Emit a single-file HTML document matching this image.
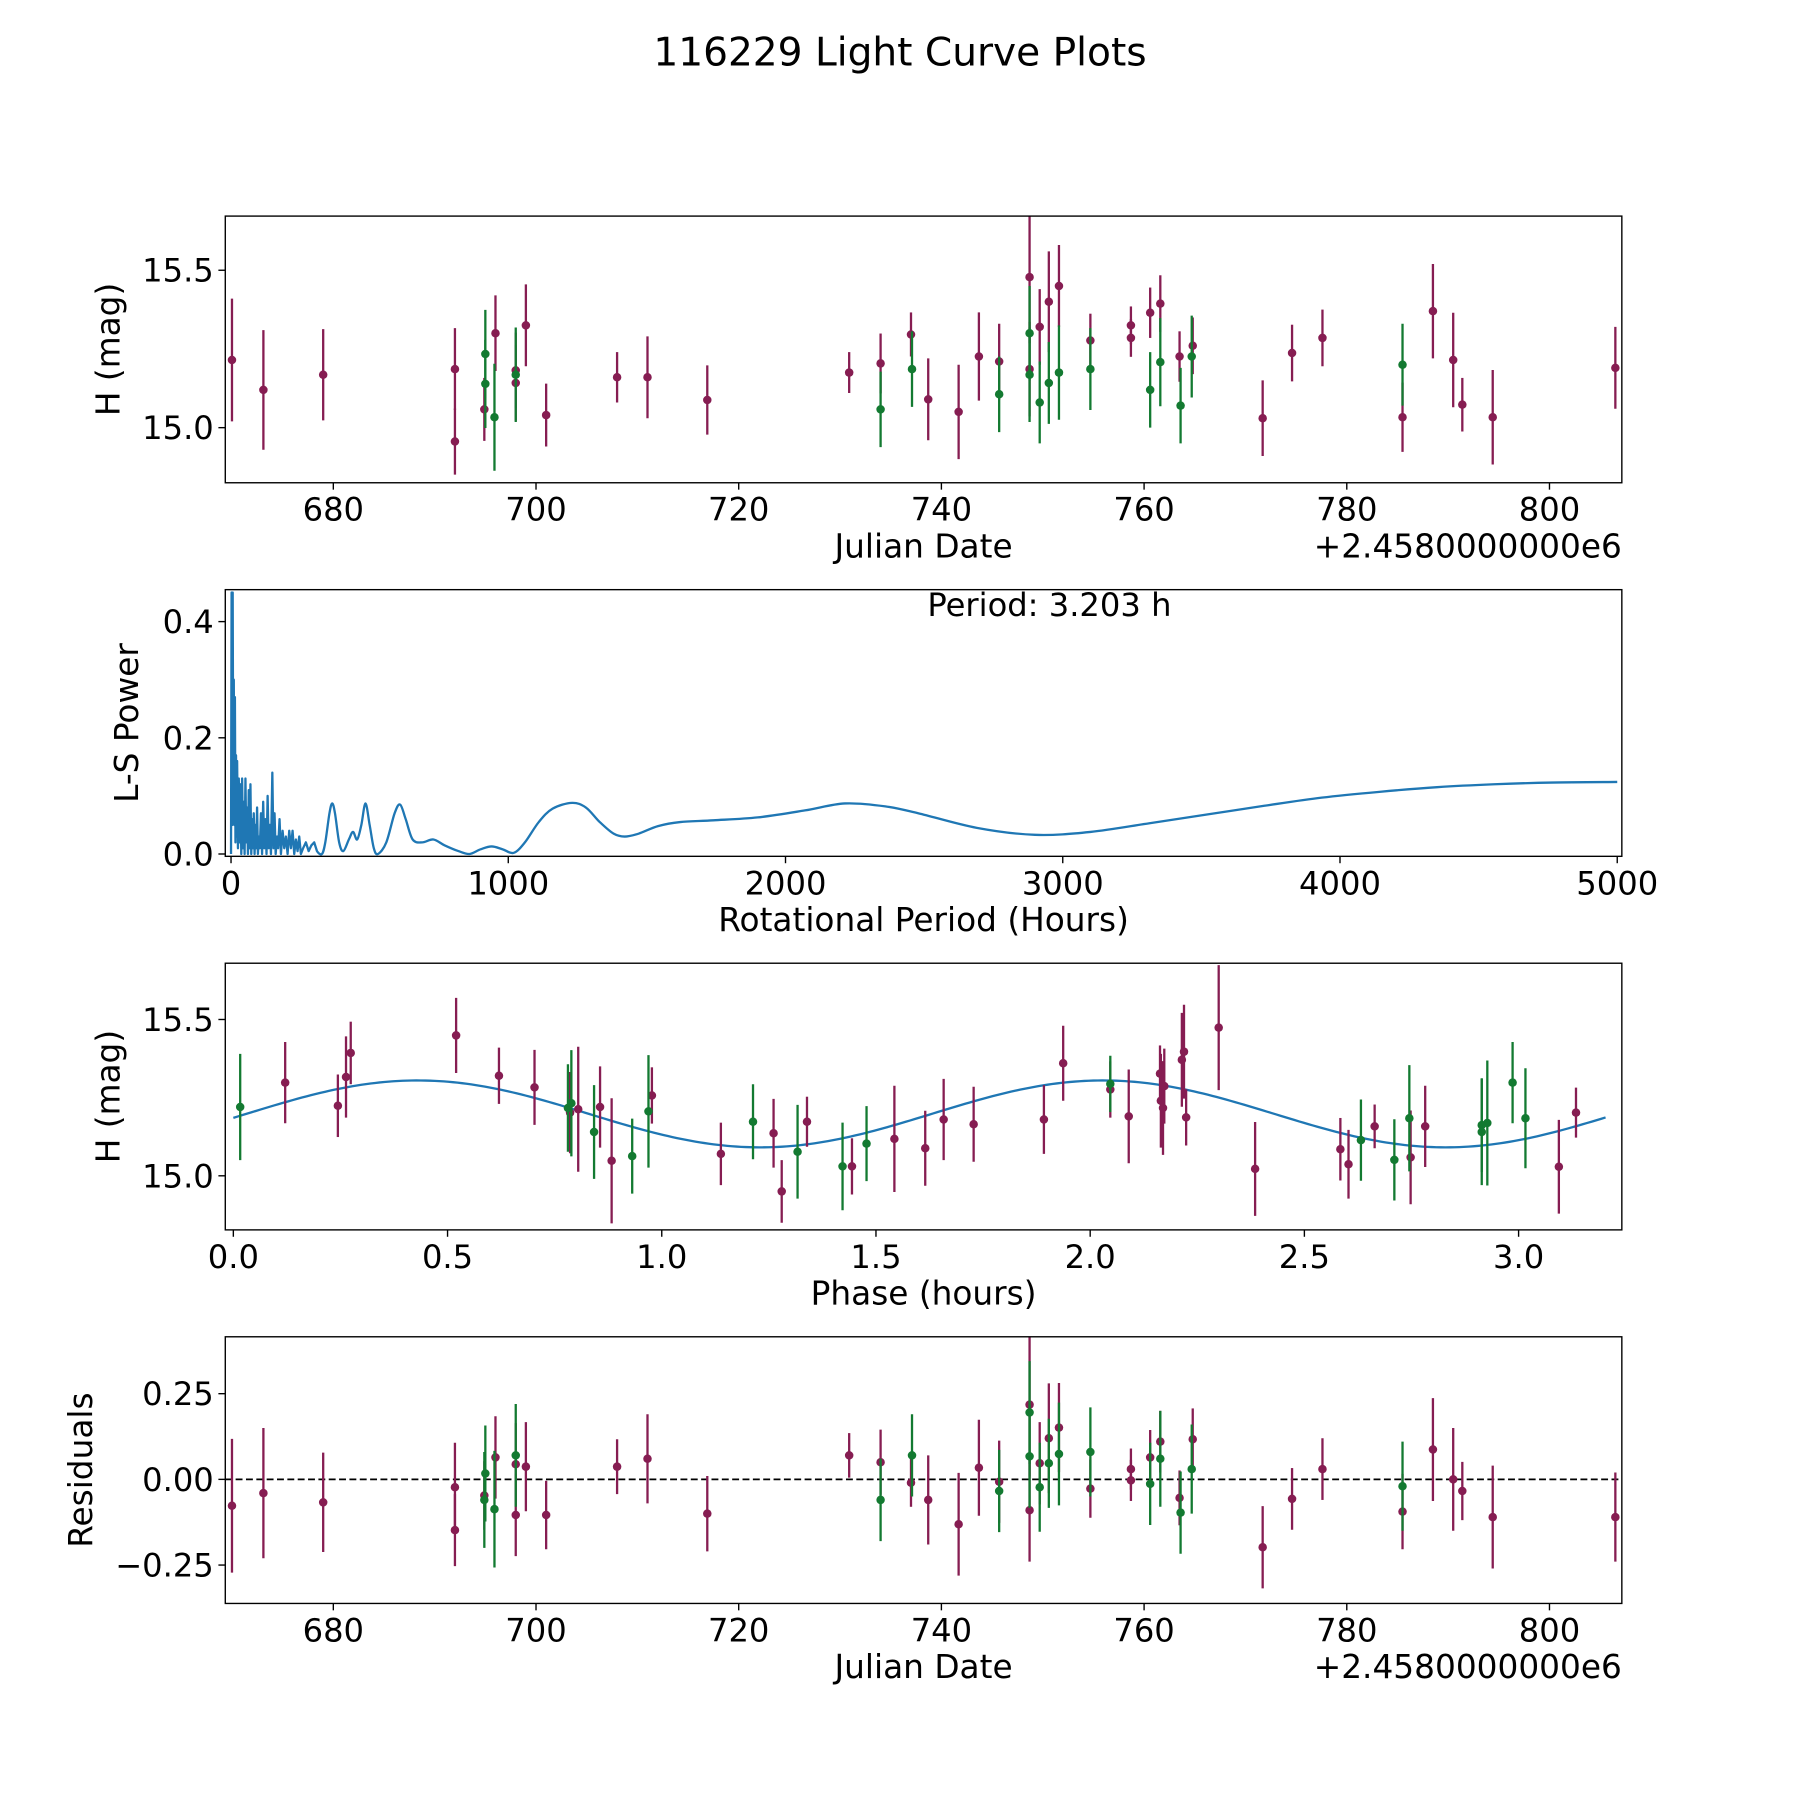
<!DOCTYPE html>
<html><head><meta charset="utf-8"><title>116229 Light Curve Plots</title>
<style>html,body{margin:0;padding:0;background:#fff}svg{display:block}text{font-family:"DejaVu Sans","Liberation Sans",sans-serif;fill:#000}</style>
</head><body>
<svg id="fig" xmlns="http://www.w3.org/2000/svg" width="1800" height="1800" viewBox="0 0 1566 1566">
<rect width="1566" height="1566" fill="#fff"/>
<text x="783" y="57" font-size="34" text-anchor="middle">116229 Light Curve Plots</text>
</svg>
<script>
// ---- Panel 1: H magnitude vs Julian Date ----
const p1Date=[670.0,673.1,679.0,692.0,692.0,694.9,696.0,698.0,698.0,699.0,701.0,708.0,711.0,716.9,730.9,734.0,737.0,738.7,741.7,743.7,745.7,748.7,748.7,749.7,750.6,751.6,754.7,758.7,758.7,760.6,761.6,763.5,764.8,771.7,774.6,777.6,785.5,788.5,790.5,791.4,794.4,806.5,
695.0,695.0,695.9,698.0,734.0,737.1,745.7,748.7,748.7,749.7,750.6,751.6,754.7,760.6,761.6,763.6,764.7,785.5];
const p1Mag=[15.215,15.12,15.168,15.186,14.956,15.058,15.30,15.182,15.142,15.325,15.04,15.16,15.16,15.088,15.175,15.204,15.296,15.09,15.05,15.226,15.21,15.478,15.186,15.32,15.40,15.45,15.277,15.325,15.285,15.365,15.394,15.226,15.26,15.03,15.237,15.285,15.033,15.37,15.215,15.073,15.033,15.19,
15.234,15.139,15.033,15.168,15.058,15.186,15.106,15.30,15.168,15.08,15.142,15.175,15.186,15.12,15.208,15.07,15.226,15.20];
const p1Err=[0.195,0.19,0.145,0.13,0.105,0.1,0.12,0.12,0.12,0.13,0.1,0.08,0.13,0.11,0.065,0.095,0.07,0.13,0.15,0.14,0.12,0.21,0.15,0.12,0.16,0.13,0.085,0.06,0.06,0.08,0.09,0.08,0.09,0.12,0.09,0.09,0.11,0.15,0.15,0.085,0.15,0.13,
0.14,0.14,0.17,0.15,0.12,0.12,0.12,0.15,0.15,0.13,0.13,0.15,0.13,0.12,0.14,0.12,0.13,0.13];
const p1Band=["H","H","H","H","H","H","H","H","H","H","H","H","H","H","H","H","H","H","H","H","H","H","H","H","H","H","H","H","H","H","H","H","H","H","H","H","H","H","H","H","H","H",
"G","G","G","G","G","G","G","G","G","G","G","G","G","G","G","G","G","G"];
const p1XTicks=[680,700,720,740,760,780,800];
const p1YTicks=[15.0,15.5];
const p1YTickLabels=["15.0","15.5"];

// ---- Panel 2: Lomb-Scargle periodogram ----
const lsPeriod=[0,2,4,6,8,10,12,14,16,18,20,22,25,28,31,34,37,40,43,46,49,52,55,58,61,64,67,70,73,76,79,82,85,88,91,94,97,100,104,108,112,116,120,124,128,132,136,140,144,149,153,157,161,166,170,175,180,186,192,198,204,210,216,222,228,234,240,246,252,260,270,280,290,300,310,328,340,355,365,375,390,405,425,440,455,470,485,500,515,530,560,590,610,630,655,690,730,770,820,860,900,940,980,1020,1060,1110,1160,1230,1280,1330,1380,1420,1470,1540,1620,1740,1900,2070,2214,2360,2480,2690,2900,3100,3313,3520,3727,3934,4142,4350,4557,4764,5000];
const lsPower=[0,0.45,0.05,0.45,0.1,0.30,0.05,0.27,0.02,0.17,0.03,0.16,0.01,0.13,0.02,0.12,0.0,0.13,0.01,0.09,0.0,0.13,0.02,0.08,0.0,0.11,0.01,0.12,0.0,0.06,0.01,0.07,0.0,0.05,0.01,0.08,0.0,0.03,0.01,0.07,0.0,0.09,0.01,0.06,0.0,0.10,0.01,0.05,0.0,0.14,0.01,0.07,0.0,0.03,0.01,0.06,0.0,0.04,0.01,0.03,0.0,0.04,0.01,0.04,0.0,0.025,0.005,0.03,0.0,0.01,0.02,0.005,0.015,0.02,0.005,0.0,0.02,0.07,0.087,0.07,0.02,0.005,0.025,0.038,0.025,0.05,0.087,0.05,0.01,0.0,0.02,0.07,0.085,0.06,0.025,0.02,0.025,0.015,0.005,0.0,0.008,0.013,0.008,0.002,0.02,0.055,0.078,0.088,0.08,0.055,0.035,0.03,0.035,0.048,0.055,0.058,0.063,0.075,0.087,0.082,0.07,0.045,0.033,0.038,0.053,0.068,0.083,0.097,0.107,0.115,0.12,0.123,0.124];
const p2XTicks=[0,1000,2000,3000,4000,5000];
const p2YTicks=[0,0.2,0.4];
const p2YTickLabels=["0.0","0.2","0.4"];
const bestPeriodLabel="Period: 3.203 h";

// ---- Panel 3: phase-folded ----
const phPhase=[0.121,0.244,0.263,0.274,0.52,0.62,0.703,0.786,0.805,0.856,0.883,0.977,1.138,1.261,1.28,1.339,1.444,1.543,1.615,1.658,1.728,1.892,1.937,2.047,2.09,2.163,2.165,2.17,2.173,2.214,2.219,2.224,2.3,2.385,2.584,2.603,2.664,2.748,2.782,3.094,3.134,
0.016,0.781,0.789,0.842,0.931,0.969,1.213,1.317,1.422,1.478,2.047,2.632,2.71,2.745,2.914,2.914,2.927,2.986,3.016];
const phMag=[15.298,15.224,15.316,15.393,15.449,15.32,15.283,15.202,15.213,15.22,15.048,15.257,15.07,15.136,14.95,15.173,15.03,15.118,15.088,15.18,15.165,15.18,15.36,15.276,15.19,15.327,15.24,15.217,15.287,15.371,15.397,15.187,15.474,15.022,15.085,15.037,15.158,15.059,15.158,15.029,15.202,
15.22,15.217,15.232,15.14,15.063,15.206,15.173,15.077,15.03,15.103,15.294,15.114,15.051,15.184,15.162,15.14,15.169,15.298,15.184];
const phErr=[0.13,0.1,0.13,0.1,0.12,0.09,0.12,0.13,0.2,0.13,0.2,0.09,0.1,0.11,0.1,0.08,0.09,0.17,0.12,0.13,0.12,0.11,0.12,0.09,0.15,0.09,0.15,0.15,0.12,0.15,0.15,0.09,0.2,0.15,0.1,0.11,0.07,0.15,0.13,0.15,0.08,
0.17,0.14,0.17,0.15,0.12,0.18,0.12,0.15,0.14,0.12,0.09,0.13,0.13,0.17,0.15,0.17,0.2,0.13,0.16];
const phBand=["H","H","H","H","H","H","H","H","H","H","H","H","H","H","H","H","H","H","H","H","H","H","H","H","H","H","H","H","H","H","H","H","H","H","H","H","H","H","H","H","H",
"G","G","G","G","G","G","G","G","G","G","G","G","G","G","G","G","G","G","G"];
const modelMean=[15.198];
const modelAmp=[0.107];
const modelPeak=[0.43];
const modelHalfPeriod=[1.6];
const modelRange=[0,3.203];
const p3XTicks=[0,0.5,1.0,1.5,2.0,2.5,3.0];
const p3XTickLabels=["0.0","0.5","1.0","1.5","2.0","2.5","3.0"];
const p3YTicks=[15.0,15.5];
const p3YTickLabels=["15.0","15.5"];

// ---- Panel 4: residuals ----
const resDate=[670.0,673.1,679.0,692.0,692.0,694.9,696.0,698.0,698.0,699.0,701.0,708.0,711.0,716.9,730.9,734.0,737.0,738.7,741.7,743.7,745.7,748.7,748.7,749.7,750.6,751.6,754.7,758.7,758.7,760.6,761.6,763.5,764.8,771.7,774.6,777.6,785.5,788.5,790.5,791.4,794.4,806.5,
695.0,694.9,695.9,698.0,734.0,737.1,745.7,748.7,748.7,749.7,750.6,751.6,754.7,760.6,761.6,763.6,764.7,785.5];
const resVal=[-0.077,-0.04,-0.067,-0.023,-0.148,-0.047,0.064,-0.104,0.044,0.037,-0.104,0.037,0.06,-0.1,0.07,0.05,-0.01,-0.06,-0.131,0.034,-0.007,0.218,-0.09,0.047,0.12,0.151,-0.027,0.03,-0.003,0.064,0.11,-0.054,0.117,-0.198,-0.057,0.03,-0.094,0.087,0.0,-0.034,-0.11,-0.11,
0.017,-0.06,-0.087,0.07,-0.06,0.07,-0.034,0.195,0.067,-0.023,0.047,0.074,0.08,-0.013,0.06,-0.097,0.03,-0.02];
const resErr=p1Err;
const resBand=p1Band;
const p4XTicks=[680,700,720,740,760,780,800];
const p4YTicks=[-0.25,0,0.25];
const p4YTickLabels=["\u22120.25","0.00","0.25"];

const NS="http://www.w3.org/2000/svg";
const svg=document.getElementById('fig');
const L=196,R=1411,H=232;
const COL={H:"#861d52",G:"#137a31"};
function mk(tag,attrs,parent){const e=document.createElementNS(NS,tag);for(const k in attrs)e.setAttribute(k,attrs[k]);(parent||svg).appendChild(e);return e;}
function lin(d0,d1,r0,r1){return v=>r0+(v-d0)/(d1-d0)*(r1-r0);}

function axes(name,top,xd,yd,xt,xtl,yt,ytl,xlabel,ylabel,ylabX,offset){
  const g=mk('g',{});
  
  
  const x=lin(xd[0],xd[1],L,R), y=lin(yd[0],yd[1],top+H,top);
  const clipId=name+'-clip';
  const cp=mk('clipPath',{id:clipId},g);mk('rect',{x:L,y:top,width:R-L,height:H},cp);
  const marks=mk('g',{'clip-path':'url(#'+clipId+')'},g);
  
  
  const fr=mk('rect',{x:L,y:top,width:R-L,height:H,fill:'none',stroke:'#000','stroke-width':1.2},g);
  
  
  xt.forEach((v,i)=>{const px=x(v);mk('line',{x1:px,x2:px,y1:top+H,y2:top+H+6,stroke:'#000','stroke-width':1.2},g);
    const t=mk('text',{x:px,y:top+H+33,'font-size':28,'text-anchor':'middle'},g);t.textContent=xtl[i];
    
    });
  yt.forEach((v,i)=>{const py=y(v);mk('line',{x1:L-6,x2:L,y1:py,y2:py,stroke:'#000','stroke-width':1.2},g);
    const t=mk('text',{x:L-10,y:py+10,'font-size':28,'text-anchor':'end'},g);t.textContent=ytl[i];
    
    });
  const xl=mk('text',{x:(L+R)/2,y:top+H+65,'font-size':28.5,'text-anchor':'middle'},g);xl.textContent=xlabel;
  
  
  const yl=mk('text',{x:ylabX,y:top+H/2,'font-size':28.5,'text-anchor':'middle',transform:'rotate(-90 '+ylabX+' '+(top+H/2)+')'},g);yl.textContent=ylabel;
  
  
  if(offset){const o=mk('text',{x:R,y:top+H+65,'font-size':28.5,'text-anchor':'end'},g);o.textContent=offset;
    
    }
  return {x,y,marks};
}
function errpts(ax,xs,ys,es,bands){
  xs.forEach((v,i)=>{const px=ax.x(v),c=COL[bands[i]];
    const l=mk('line',{x1:px,x2:px,y1:ax.y(ys[i]+es[i]),y2:ax.y(ys[i]-es[i]),stroke:c,'stroke-width':2},ax.marks);
    
    
    const d=mk('circle',{cx:px,cy:ax.y(ys[i]),r:3.7,fill:c},ax.marks);
    
    });
}
const s=v=>String(v);
// Panel 1
const a1=axes('magnitude-vs-date-panel',188,[669.34,807.14],[14.825,15.672],p1XTicks,p1XTicks.map(s),p1YTicks,p1YTickLabels,'Julian Date','H (mag)',104,'+2.4580000000e6');
errpts(a1,p1Date,p1Mag,p1Err,p1Band);
// Panel 2
const a2=axes('periodogram-panel',513,[-20.7,5016.6],[-0.004,0.455],p2XTicks,p2XTicks.map(s),p2YTicks,p2YTickLabels,'Rotational Period (Hours)','L-S Power',120,null);
const pts=lsPeriod.map((p,i)=>[a2.x(p),a2.y(lsPower[i])]);
let dls='M'+pts[0][0].toFixed(2)+' '+pts[0][1].toFixed(2);
for(let i=1;i<pts.length;i++){
  if(lsPeriod[i]<=310){dls+='L'+pts[i][0].toFixed(2)+' '+pts[i][1].toFixed(2);}
  else{const p0=pts[i-2]||pts[i-1],p1=pts[i-1],p2=pts[i],p3=pts[i+1]||pts[i];
    const c1=[p1[0]+(p2[0]-p0[0])/6,p1[1]+(p2[1]-p0[1])/6],c2=[p2[0]-(p3[0]-p1[0])/6,p2[1]-(p3[1]-p1[1])/6];
    dls+='C'+c1[0].toFixed(2)+' '+c1[1].toFixed(2)+' '+c2[0].toFixed(2)+' '+c2[1].toFixed(2)+' '+p2[0].toFixed(2)+' '+p2[1].toFixed(2);}
}
const ls=mk('path',{d:dls,fill:'none',stroke:'#1f77b4','stroke-width':2,'stroke-linejoin':'round'},a2.marks);


const pl=mk('text',{x:913,y:536,'font-size':28,'text-anchor':'middle'});pl.textContent=bestPeriodLabel;


// Panel 3
const a3=axes('phase-folded-panel',838,[-0.0188,3.241],[14.827,15.68],p3XTicks,p3XTickLabels,p3YTicks,p3YTickLabels,'Phase (hours)','H (mag)',104,null);
let dm='';for(let k=0;k<=300;k++){const p=modelRange[0]+(modelRange[1]-modelRange[0])*k/300;
  const m=modelMean[0]+modelAmp[0]*Math.cos(2*Math.PI*(p-modelPeak[0])/modelHalfPeriod[0]);
  dm+=(k?'L':'M')+a3.x(p).toFixed(2)+' '+a3.y(m).toFixed(2);}
const mc=mk('path',{d:dm,fill:'none',stroke:'#1f77b4','stroke-width':2},a3.marks);


errpts(a3,phPhase,phMag,phErr,phBand);
// Panel 4
const a4=axes('residuals-panel',1163,[669.34,807.14],[-0.362,0.416],p4XTicks,p4XTicks.map(s),p4YTicks,p4YTickLabels,'Julian Date','Residuals',80,'+2.4580000000e6');
const zl=mk('line',{x1:L,x2:R,y1:a4.y(0),y2:a4.y(0),stroke:'#000','stroke-width':1.5,'stroke-dasharray':'6,3'},a4.marks);


errpts(a4,resDate,resVal,resErr,resBand);
</script>
</body></html>
